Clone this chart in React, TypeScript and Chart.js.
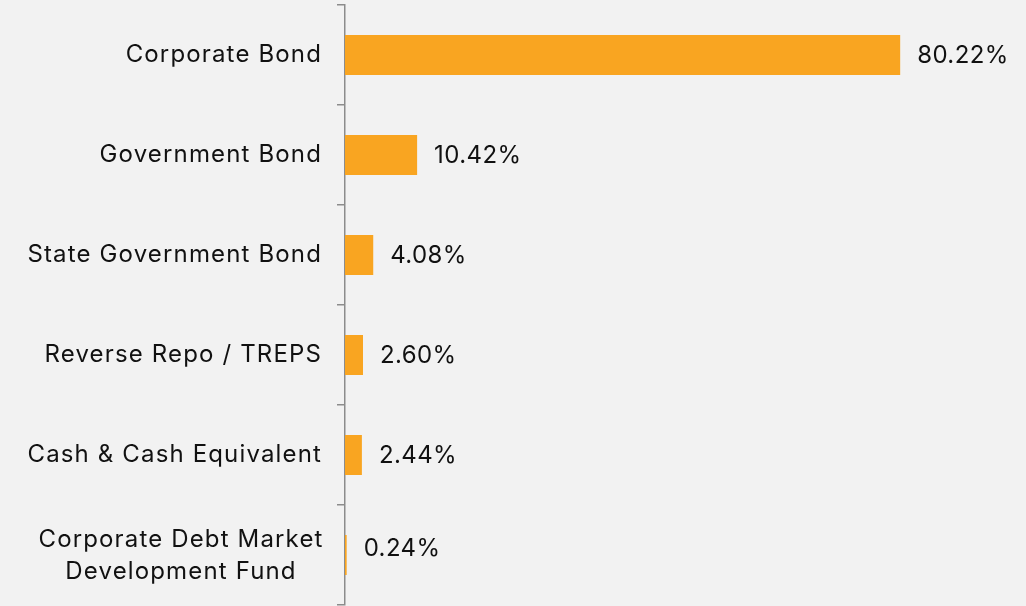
import React, { useEffect, useRef } from "react";
import { Chart, registerables } from "chart.js";
Chart.register(...registerables);

const categories: string[][] = [
  ["Corporate Bond"],
  ["Government Bond"],
  ["State Government Bond"],
  ["Reverse Repo / TREPS"],
  ["Cash & Cash Equivalent"],
  ["Corporate Debt Market", "Development Fund"],
];
const values: number[] = [80.22, 10.42, 4.08, 2.6, 2.44, 0.24];
const valueLabels: string[] = ["80.22%", "10.42%", "4.08%", "2.60%", "2.44%", "0.24%"];

const FONT = '24px "Inter", "Open Sans", sans-serif';
const TEXT = "#111111";

const labelPlugin = {
  id: "customLabels",
  afterDatasetsDraw(chart: any) {
    const ctx = chart.ctx;
    const meta = chart.getDatasetMeta(0);
    const yScale = chart.scales.y;
    ctx.save();
    ctx.font = FONT;
    ctx.fillStyle = TEXT;
    ctx.textBaseline = "middle";
    meta.data.forEach((bar: any, i: number) => {
      const lines = categories[i];
      ctx.textAlign = "left";
      ctx.letterSpacing = "0.4px";
      const dy = lines.length > 1 ? -6 : 1;
      ctx.fillText(valueLabels[i], bar.x + 17, bar.y + dy);
      ctx.letterSpacing = "1.15px";
      const cy = yScale.getPixelForValue(i);
      if (lines.length === 1) {
        ctx.textAlign = "right";
        ctx.fillText(lines[0], chart.chartArea.left - 24 + 1, cy);
      } else {
        ctx.textAlign = "center";
        const lh = 32;
        const start = cy - ((lines.length - 1) * lh) / 2;
        lines.forEach((l, k) => ctx.fillText(l, 181, start + k * lh + 1));
      }
    });
    ctx.restore();
  },
};

export default function App() {
  const ref = useRef<HTMLCanvasElement>(null);
  useEffect(() => {
    document.body.style.margin = "0";
    document.body.style.background = "#f2f2f2";
    const chart = new Chart(ref.current!, {
      type: "bar",
      data: {
        labels: categories.map((c) => c.join(" ")),
        datasets: [
          {
            data: values,
            backgroundColor: "#f9a521",
            borderWidth: 0,
            barPercentage: 0.4,
            categoryPercentage: 1,
          },
        ],
      },
      options: {
        indexAxis: "y",
        animation: false,
        responsive: false,
        layout: { padding: { top: 5, bottom: 1, left: 0, right: 0 } },
        plugins: { legend: { display: false }, tooltip: { enabled: false } },
        scales: {
          x: { display: false, min: 0, max: 98.4 },
          y: {
            ticks: { display: false },
            grid: {
              display: true,
              drawOnChartArea: false,
              drawTicks: true,
              tickLength: 8,
              color: "#8c8c8c",
              lineWidth: 1.5,
              offset: true,
            },
            border: { display: true, color: "#8c8c8c", width: 1.5 },
            afterFit: (s: any) => {
              s.width = 345;
            },
          },
        },
      },
      plugins: [labelPlugin],
    });
    return () => chart.destroy();
  }, []);
  return (
    <div style={{ background: "#f2f2f2", width: 1026, height: 606 }}>
      <canvas ref={ref} width={1026} height={606} style={{ display: "block" }} />
    </div>
  );
}
